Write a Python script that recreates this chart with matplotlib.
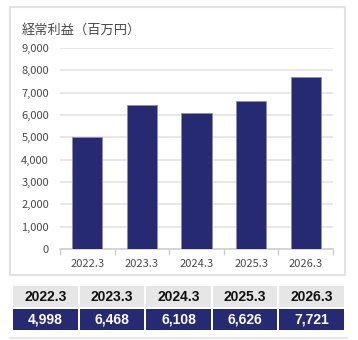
import matplotlib.pyplot as plt
from matplotlib.patches import Rectangle

# data
periods = ["2022.3", "2023.3", "2024.3", "2025.3", "2026.3"]
profit = [4998, 6468, 6108, 6626, 7721]
title = "経常利益（百万円）"

W, H = 358, 340
navy = "#262a72"
grid_c = "#e3e3e3"
txt_c = "#4a4a4a"

plt.rcParams['font.family'] = ['Noto Sans CJK JP', 'DejaVu Sans']

fig = plt.figure(figsize=(W / 100, H / 100), dpi=100)


def fx(px):
    return px / W


def fy(py):
    return 1 - py / H


# outer chart box
fig.patches.append(Rectangle((fx(10), fy(275)), fx(335), 268 / H, transform=fig.transFigure,
                             fill=False, edgecolor="#e2e2e2", linewidth=1.5))
fig.text(fx(22), fy(30), title, fontsize=9.5, color=txt_c, va="center", ha="left")

# bar chart
ax = fig.add_axes([fx(60), fy(249), 273 / W, 201 / H])
x = range(len(periods))
ax.bar(x, profit, width=0.55, color=navy, edgecolor="#8a8db5", linewidth=0.6, zorder=3)
ax.set_xlim(-0.5, len(periods) - 0.5)
ax.set_ylim(0, 9000)
ax.set_yticks(range(0, 9001, 1000))
ax.set_yticklabels([f"{v:,}" for v in range(0, 9001, 1000)])
ax.yaxis.grid(True, color=grid_c, linewidth=1.2, zorder=0)
ax.set_xticks(list(x))
ax.set_xticklabels(periods)
ax.set_xticks([i + 0.5 for i in range(-1, len(periods))], minor=True)
ax.tick_params(axis="x", which="major", length=0, labelsize=8, labelcolor=txt_c, pad=7)
ax.tick_params(axis="x", which="minor", length=4, color="#cccccc", width=1)
ax.tick_params(axis="y", length=0, labelsize=8, labelcolor=txt_c, pad=8)
for s in ["top", "right", "left"]:
    ax.spines[s].set_visible(False)
ax.spines["bottom"].set_color("#d0d0d0")
ax.spines["bottom"].set_linewidth(1.2)

# table below
tab = fig.add_axes([fx(12), fy(330), 333 / W, 44 / H])
tab.set_xlim(0, len(periods))
tab.set_ylim(0, 2)
tab.axis("off")
gap = 2 / 333 * len(periods) / 2
for i, (p, v) in enumerate(zip(periods, profit)):
    tab.add_patch(Rectangle((i + gap, 1.04), 1 - 2 * gap, 0.96, color="#e6e6e6", lw=0))
    tab.add_patch(Rectangle((i + gap, 0), 1 - 2 * gap, 0.96, color=navy, lw=0))
    tab.text(i + 0.5, 1.52, p, ha="center", va="center", fontsize=10, fontweight="bold",
             color="#111111", family="Liberation Sans")
    tab.text(i + 0.5, 0.48, f"{v:,}", ha="center", va="center", fontsize=10, fontweight="bold",
             color="white", family="Liberation Sans")

fig.lines.append(plt.Line2D([fx(10), fx(347)], [fy(338), fy(338)], transform=fig.transFigure,
                            color="#e2e2e2", linewidth=1.2))

fig.savefig("out.png", dpi=100)
